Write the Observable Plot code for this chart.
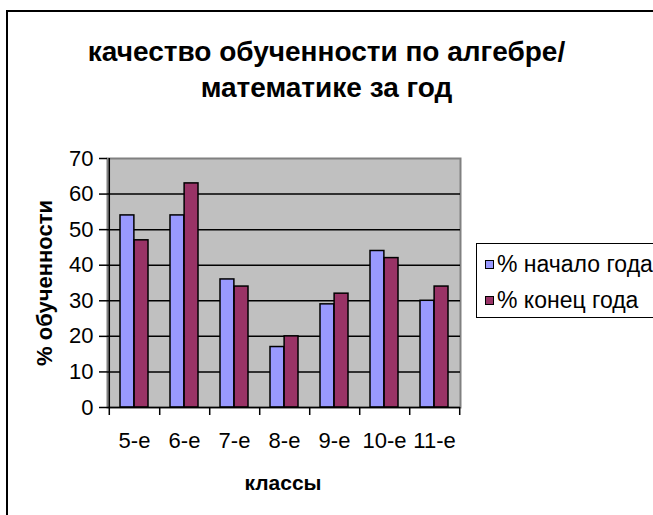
<!DOCTYPE html>
<html><head><meta charset="utf-8">
<script src="https://cdn.jsdelivr.net/npm/d3@7"></script>
<script src="https://cdn.jsdelivr.net/npm/@observablehq/plot@0.6"></script>
<style>
body{margin:0;background:#fff;font-family:"Liberation Sans",Arial,sans-serif;}
#wrap{position:relative;width:653px;height:515px;overflow:hidden;background:#fff;}
#border{position:absolute;left:6px;top:10px;width:700px;height:600px;border-left:2px solid #000;border-top:2px solid #000;}
#chart{position:absolute;left:0;top:0;}
#title{position:absolute;left:0;width:653px;top:34px;text-align:center;font-weight:bold;font-size:28px;line-height:36px;color:#000;}
#ytitle{position:absolute;left:45px;top:283px;transform:translate(-50%,-50%) rotate(-90deg);font-weight:bold;font-size:22px;white-space:nowrap;}
#xtitle{position:absolute;left:283px;top:483px;transform:translate(-50%,-50%);font-weight:bold;font-size:21px;white-space:nowrap;}
#legend{position:absolute;left:476px;top:243px;width:190px;height:75px;border:1.5px solid #000;background:#fff;box-sizing:border-box;}
.item{position:absolute;left:8px;height:26px;font-size:23px;white-space:nowrap;display:flex;align-items:center;}
.sw{width:9px;height:9px;border:1px solid #000;margin-right:3px;box-sizing:border-box;}
</style></head>
<body>
<div id="wrap">
  <div id="border"></div>
  <div id="chart"></div>
  <div id="title"></div>
  <div id="ytitle"></div>
  <div id="xtitle"></div>
  <div id="legend"></div>
</div>
<script>
const titleLines = ["качество обученности по алгебре/", "математике за год"];
const yTitle = "% обученности";
const xTitle = "классы";
const classes = ["5-е","6-е","7-е","8-е","9-е","10-е","11-е"];
const seriesNames = ["% начало года","% конец года"];
const startPct = [54,54,36,17,29,44,30];
const endPct = [47,63,34,20,32,42,34];
const yTicks = [0,10,20,30,40,50,60,70];
const colors = ["#9999FF","#993366"];

const W = 653, H = 515, mL = 107, mR = 193, mT = 158, mB = 108;
const step = (W - mL - mR) / classes.length;

const startRows = classes.map((c,i)=>({cls:c, v:startPct[i]}));
const endRows = classes.map((c,i)=>({cls:c, v:endPct[i]}));

const chart = Plot.plot({
  width: W, height: H,
  marginLeft: mL, marginRight: mR, marginTop: mT, marginBottom: mB,
  style: {fontFamily: '"Liberation Sans", Arial, sans-serif', fontSize: "22px", color: "#000", background: "transparent"},
  x: {domain: classes, paddingInner: 0.44, paddingOuter: 0.22, axis: null},
  y: {domain: [0, 70], axis: null},
  marks: [
    Plot.frame({fill: "#c0c0c0", stroke: "#808080", strokeWidth: 2}),
    Plot.ruleY(yTicks.filter(t => t > 0 && t < 70), {stroke: "#000", strokeWidth: 1.5}),
    Plot.barY(startRows, {x: "cls", y: "v", fill: colors[0], stroke: "#000", strokeWidth: 1.5, insetRight: step*0.28}),
    Plot.barY(endRows, {x: "cls", y: "v", fill: colors[1], stroke: "#000", strokeWidth: 1.5, insetLeft: step*0.28}),
    Plot.ruleY([0], {stroke: "#000", strokeWidth: 1.5}),
    Plot.ruleX([classes[0]], {dx: -step/2, insetBottom: -8, stroke: "#000", strokeWidth: 1.5}),
    Plot.axisX({tickSize: 8, tickFormat: () => "", dx: step/2, strokeWidth: 1.5, label: null}),
    Plot.axisX({tickSize: 0, tickPadding: 25, fontSize: 22, label: null}),
    Plot.axisY({ticks: yTicks, tickSize: 8, tickPadding: 6, fontSize: 22, strokeWidth: 1.5, label: null})
  ]
});
document.getElementById("chart").appendChild(chart);

document.getElementById("title").innerHTML = titleLines.join("<br>");
document.getElementById("ytitle").textContent = yTitle;
document.getElementById("xtitle").textContent = xTitle;
const leg = document.getElementById("legend");
seriesNames.forEach((n,i)=>{
  const d = document.createElement("div");
  d.className = "item";
  d.style.top = (i === 0 ? 7 : 43) + "px";
  d.innerHTML = `<span class="sw" style="background:${colors[i]}"></span><span>${n}</span>`;
  leg.appendChild(d);
});
</script>
</body></html>
